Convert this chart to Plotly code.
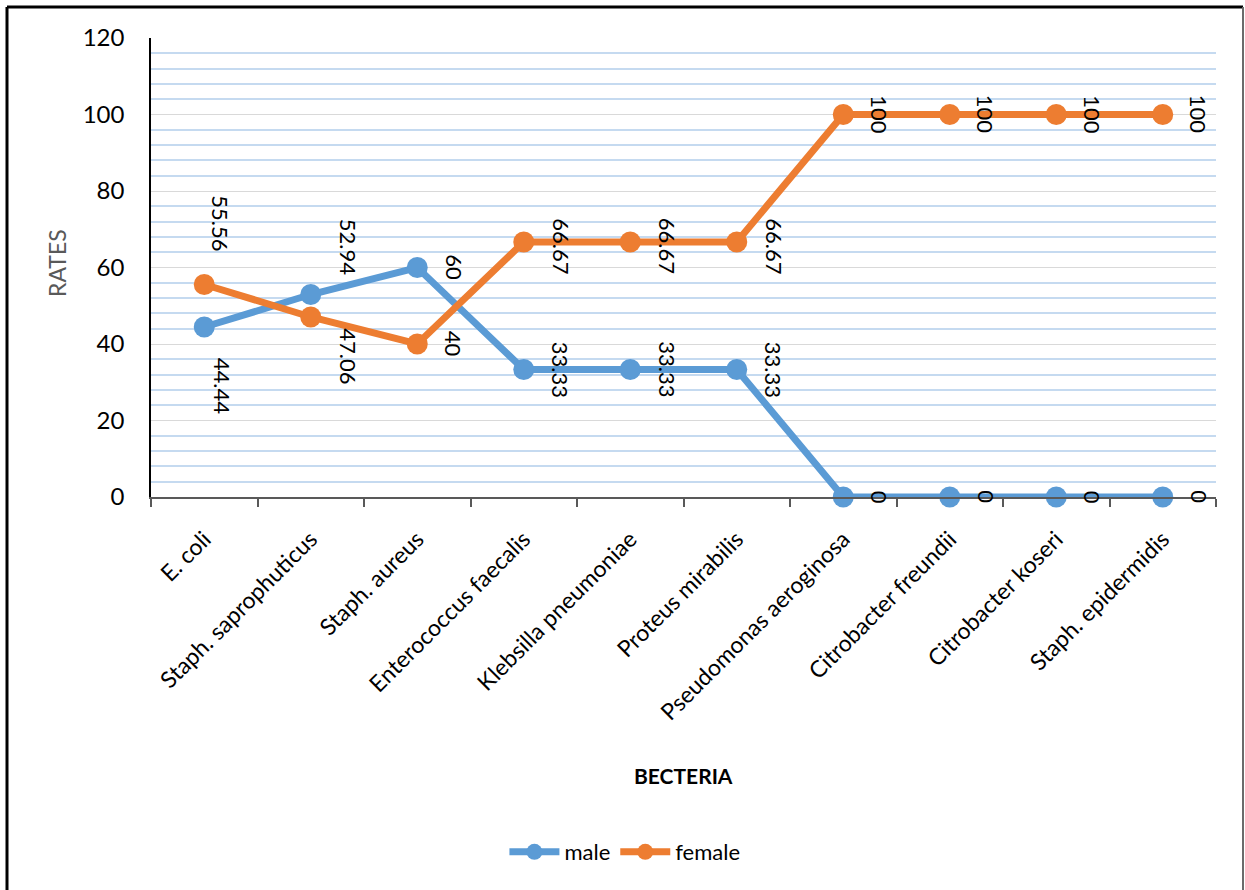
import plotly.graph_objects as go

bacteria = ["E. coli", "Staph. saprophuticus", "Staph. aureus", "Enterococcus faecalis",
            "Klebsilla pneumoniae", "Proteus mirabilis", "Pseudomonas aeroginosa",
            "Citrobacter freundii", "Citrobacter koseri", "Staph. epidermidis"]
male = [44.44, 52.94, 60, 33.33, 33.33, 33.33, 0, 0, 0, 0]
female = [55.56, 47.06, 40, 66.67, 66.67, 66.67, 100, 100, 100, 100]
male_text = ["44.44", "52.94", "60", "33.33", "33.33", "33.33", "0", "0", "0", "0"]
female_text = ["55.56", "47.06", "40", "66.67", "66.67", "66.67", "100", "100", "100", "100"]

BLUE = "#5b9bd5"
ORANGE = "#ed7d31"
FONT = "Lato"

fig = go.Figure()
for name, vals, col in [("male", male, BLUE), ("female", female, ORANGE)]:
    fig.add_trace(go.Scatter(
        x=bacteria, y=vals, name=name, mode="lines+markers",
        line=dict(color=col, width=7),
        marker=dict(color=col, size=21),
        cliponaxis=False,
    ))

# data-label pixel offsets (style only)
male_shift = [(19, -59), (38, 48), (37, 0)] + [(37, 0)] * 7
female_shift = [(16, 61), (38, -39), (37, 0)] + [(37, -4)] * 3 + [(36, 0)] * 4

annotations = []
for vals, texts, shifts in [(male, male_text, male_shift), (female, female_text, female_shift)]:
    for cat, v, t, (dx, dy) in zip(bacteria, vals, texts, shifts):
        annotations.append(dict(
            x=cat, y=v, text=t, textangle=90, showarrow=False,
            xshift=dx, yshift=dy, font=dict(family=FONT, size=22, color="#000000"),
        ))

L, R, T, B = 151, 1216, 38, 497
W, H = 1245, 890
pw, ph = R - L, B - T

def px(x):
    return (x - L) / pw

def py(y):
    return (B - y) / ph

annotations.append(dict(x=0.5, y=py(775), xref="paper", yref="paper", text="<b>BECTERIA</b>",
                        showarrow=False, yanchor="middle",
                        font=dict(family=FONT, size=21, color="#000000")))
annotations.append(dict(x=px(57), y=py(263), xref="paper", yref="paper", text="RATES",
                        showarrow=False, textangle=-90, xanchor="center", yanchor="middle",
                        font=dict(family=FONT, size=23, color="#595959")))

shapes = [
    dict(type="line", xref="paper", yref="paper", x0=px(7), x1=px(1243), y0=py(7), y1=py(7),
         line=dict(color="#000000", width=3)),
    dict(type="line", xref="paper", yref="paper", x0=px(7), x1=px(7), y0=py(7), y1=py(900),
         line=dict(color="#000000", width=3)),
    dict(type="line", xref="paper", yref="paper", x0=px(1243), x1=px(1243), y0=py(7), y1=py(900),
         line=dict(color="#6b6b6b", width=2)),
]

fig.update_layout(
    width=W, height=H,
    margin=dict(l=L, r=W - R, t=T, b=H - B),
    paper_bgcolor="white", plot_bgcolor="white",
    font=dict(family=FONT, color="#000000"),
    annotations=annotations,
    shapes=shapes,
    showlegend=True,
    legend=dict(orientation="h", x=0.445, y=py(852), xanchor="center", yanchor="middle",
                font=dict(family=FONT, size=22, color="#000000"), itemwidth=50,
                tracegroupgap=0),
    xaxis=dict(
        type="category", tickson="boundaries", showgrid=False,
        showline=True, linecolor="#595959", linewidth=1.5,
        ticks="outside", ticklen=8, tickcolor="#595959", tickwidth=1.5,
        tickangle=-45, tickfont=dict(family=FONT, size=23, color="#000000"),
        ticklabelstandoff=18,
        range=[-0.5, 9.5], fixedrange=True,
    ),
    yaxis=dict(
        range=[0, 120], dtick=20, tick0=0,
        showgrid=True, gridcolor="#d9d9d9", gridwidth=1,
        showline=True, linecolor="#000000", linewidth=1.5,
        ticks="", tickfont=dict(family=FONT, size=24, color="#000000"),
        ticklabelstandoff=20, zeroline=False,
        minor=dict(dtick=4, tick0=0, showgrid=True, gridcolor="#c5daf0", gridwidth=2),
    ),
)

fig.write_html("out.html")
